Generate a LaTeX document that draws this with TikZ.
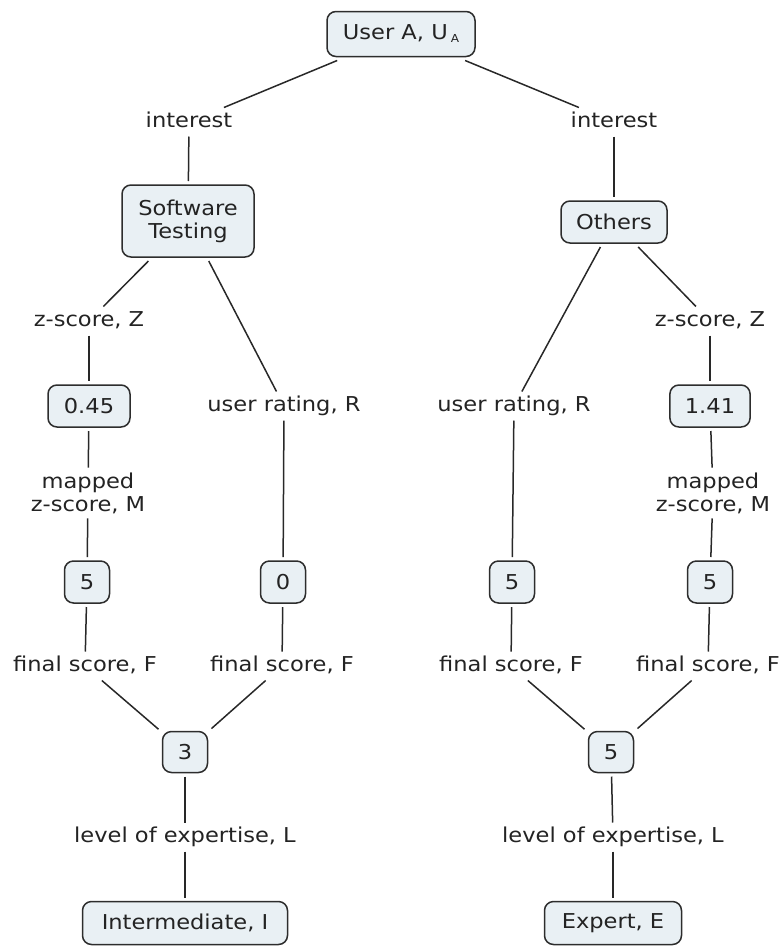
\documentclass[tikz,border=0pt]{standalone}
\usepackage{fontspec}
\setmainfont{DejaVu Sans}[FakeStretch=1.1]
\definecolor{boxfill}{RGB}{233,240,244}
\definecolor{boxline}{RGB}{45,45,45}
\definecolor{txt}{RGB}{35,35,35}
\definecolor{lineclr}{RGB}{40,40,40}
\tikzset{
  concept/.style={draw=boxline, fill=boxfill, line width=1.5pt, rounded corners=9pt,
    minimum width=45pt, minimum height=42pt, inner xsep=15pt, inner ysep=6pt,
    align=center, outer sep=4pt, text=txt},
  linkph/.style={inner sep=3pt, outer sep=2pt, text=txt, text height=15pt, text depth=4pt},
  linkph2/.style={inner sep=3pt, outer sep=2pt, text=txt, align=center},
  conn/.style={draw=lineclr, line width=1.5pt}
}
\begin{document}
\begin{tikzpicture}[x=1pt, y=-1pt, font=\fontsize{20.5}{23}\selectfont]
\useasboundingbox (0,0) rectangle (780,946);
% concepts
\node[concept, minimum width=148pt, minimum height=45pt] (ua) at (401,34) {User A, U\kern3pt\raisebox{-3pt}{\fontsize{11}{11}\selectfont A}};
\node[concept, minimum width=132pt, minimum height=72pt] (sw) at (188,221) {Software\\Testing};
\node[concept, minimum width=106pt] (oth) at (614,222) {Others};
\node[concept, minimum width=82pt] (v045) at (89,406) {0.45};
\node[concept, minimum width=80pt] (v141) at (710,406) {1.41};
\node[concept] (f5a) at (87,582) {5};
\node[concept] (f0) at (283,582) {0};
\node[concept] (f5b) at (512,582) {5};
\node[concept] (f5c) at (710,582) {5};
\node[concept, minimum height=41pt] (b3) at (185,752) {3};
\node[concept, minimum height=41pt] (b5) at (611,752) {5};
\node[concept, minimum width=205pt, minimum height=43pt] (inter) at (185,923) {Intermediate, I};
\node[concept, minimum width=137pt, minimum height=43pt] (exp) at (613,923) {Expert, E};
% linking phrases
\node[linkph] (int1) at (189,122) {interest};
\node[linkph] (int2) at (614,122) {interest};
\node[linkph] (z1) at (89,321) {z-score, Z};
\node[linkph] (z2) at (710,321) {z-score, Z};
\node[linkph] (ur1) at (284,406) {user rating, R};
\node[linkph] (ur2) at (514,406) {user rating, R};
\node[linkph2] (m1) at (88,493) {mapped\\z-score, M};
\node[linkph2] (m2) at (713,493) {mapped\\z-score, M};
\node[linkph] (fs1) at (85,666) {final score, F};
\node[linkph] (fs2) at (282,666) {final score, F};
\node[linkph] (fs3) at (511,666) {final score, F};
\node[linkph] (fs4) at (708,666) {final score, F};
\node[linkph] (l1) at (185,837) {level of expertise, L};
\node[linkph] (l2) at (613,837) {level of expertise, L};
% connectors
\draw[conn] (ua) -- (int1);
\draw[conn] (ua) -- (int2);
\draw[conn] (int1) -- (sw);
\draw[conn] (int2) -- (oth);
\draw[conn] (sw) -- (z1);
\draw[conn] (sw) -- (ur1);
\draw[conn] (oth) -- (ur2);
\draw[conn] (oth) -- (z2);
\draw[conn] (z1) -- (v045);
\draw[conn] (v045) -- (m1);
\draw[conn] (m1) -- (f5a);
\draw[conn] (ur1) -- (f0);
\draw[conn] (ur2) -- (f5b);
\draw[conn] (z2) -- (v141);
\draw[conn] (v141) -- (m2);
\draw[conn] (m2) -- (f5c);
\draw[conn] (f5a) -- (fs1);
\draw[conn] (f0) -- (fs2);
\draw[conn] (f5b) -- (fs3);
\draw[conn] (f5c) -- (fs4);
\draw[conn] (fs1) -- (b3);
\draw[conn] (fs2) -- (b3);
\draw[conn] (fs3) -- (b5);
\draw[conn] (fs4) -- (b5);
\draw[conn] (b3) -- (l1);
\draw[conn] (b5) -- (l2);
\draw[conn] (l1) -- (inter);
\draw[conn] (l2) -- (exp);
\end{tikzpicture}
\end{document}
